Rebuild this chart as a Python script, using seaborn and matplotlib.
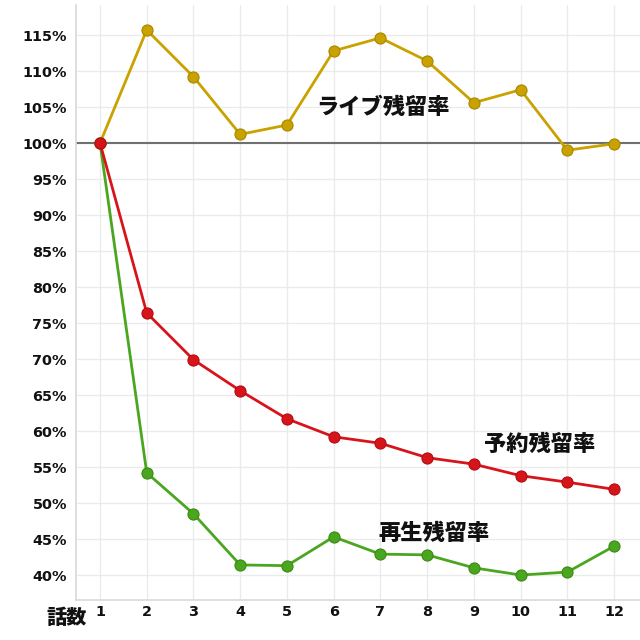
import matplotlib
matplotlib.use("Agg")
import matplotlib.pyplot as plt
import seaborn as sns
import pandas as pd

episodes = [1, 2, 3, 4, 5, 6, 7, 8, 9, 10, 11, 12]
live = [100, 115.7, 109.2, 101.2, 102.5, 112.8, 114.6, 111.4, 105.6, 107.4, 99.0, 99.9]
reserve = [100, 76.4, 69.9, 65.6, 61.7, 59.2, 58.3, 56.3, 55.4, 53.8, 52.9, 51.9]
playback = [100, 54.2, 48.5, 41.4, 41.3, 45.3, 42.9, 42.8, 41.0, 40.0, 40.4, 44.0]
series_names = ["ライブ残留率", "予約残留率", "再生残留率"]
yticks = [40, 45, 50, 55, 60, 65, 70, 75, 80, 85, 90, 95, 100, 105, 110, 115]

sns.set_style("white")
plt.rcParams['font.family'] = ['Noto Sans CJK JP', 'DejaVu Sans']

df = pd.DataFrame({
    "ep": episodes * 3,
    "val": live + reserve + playback,
    "s": [series_names[0]] * 12 + [series_names[1]] * 12 + [series_names[2]] * 12,
})

fig = plt.figure(figsize=(6.4, 6.4), dpi=100)
ax = fig.add_axes([76/640, 40/640, 564/640, 595/640])

colors = {series_names[0]: "#C9A200", series_names[1]: "#D8141B", series_names[2]: "#4BA61F"}
edges = {series_names[0]: "#A88700", series_names[1]: "#B00E14", series_names[2]: "#3A8A15"}

ax.axhline(100, color="#707070", lw=1.5, zorder=1)
for name in series_names:
    sub = df[df.s == name]
    sns.lineplot(data=sub, x="ep", y="val", ax=ax, color=colors[name], lw=2,
                 marker="o", markersize=8, markeredgecolor=edges[name],
                 markeredgewidth=0.8, zorder=3 if name != series_names[1] else 4)

ax.set_xlim(0.486, 12.556)
ax.set_ylim(36.53, 119.17)
ax.set_xticks(episodes)
ax.set_xticklabels([str(e) for e in episodes])
ax.set_yticks(yticks)
ax.set_yticklabels([f"{v}%" for v in yticks])
ax.grid(True, color="#EBEBEB", lw=1)
ax.set_axisbelow(True)
for sp in ["top", "right"]:
    ax.spines[sp].set_visible(False)
for sp in ["left", "bottom"]:
    ax.spines[sp].set_color("#D9D9D9")
    ax.spines[sp].set_linewidth(1.2)
ax.tick_params(axis="y", length=0, pad=6.5, labelcolor="#111111")
ax.tick_params(axis="x", length=0, pad=3.5, labelcolor="#111111")
for lab in ax.get_xticklabels() + ax.get_yticklabels():
    lab.set_fontweight("bold")
    lab.set_family("DejaVu Sans")
    lab.set_fontsize(10.4)
ax.set_xlabel("")
ax.set_ylabel("")

fs = 16
tc = "#111111"
ax.text(7.05, 105.0, series_names[0], fontsize=fs, fontweight="heavy", ha="center", va="center", color=tc)
ax.text(10.4, 58.2, series_names[1], fontsize=fs, fontweight="heavy", ha="center", va="center", color=tc)
ax.text(8.15, 45.8, series_names[2], fontsize=fs, fontweight="heavy", ha="center", va="center", color=tc)
fig.text(67/640, 1 - 618/640, "話数", fontsize=14.5, fontweight="heavy", ha="center", va="center", color=tc)

fig.savefig("out.png", dpi=100)
